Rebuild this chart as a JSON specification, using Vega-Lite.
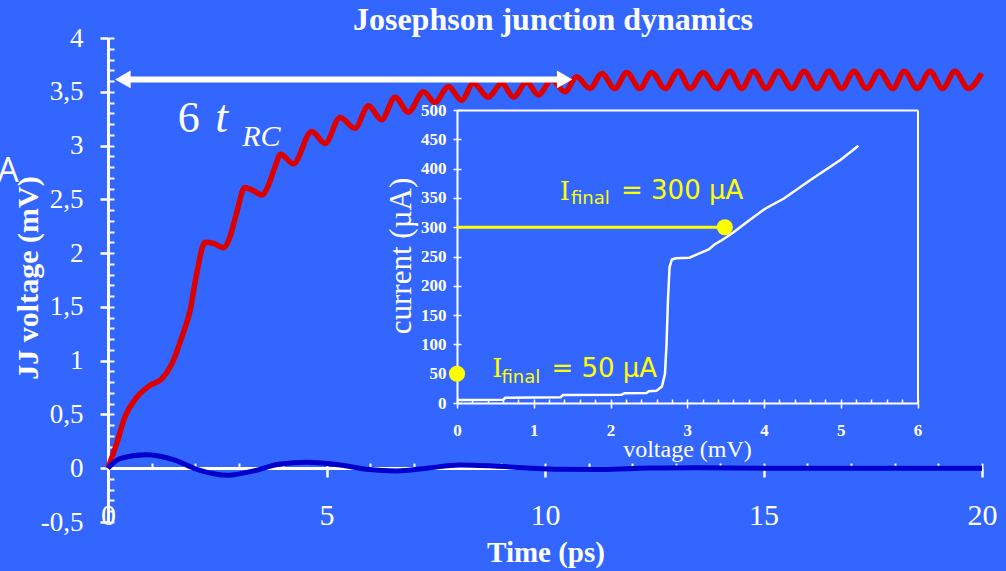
{
  "$schema": "https://vega.github.io/schema/vega-lite/v6.json",
  "width": 874,
  "height": 484,
  "autosize": {"type": "none"},
  "padding": {"left": 108, "top": 38, "right": 24, "bottom": 49},
  "background": "#3366FF",
  "config": {
    "view": {"stroke": null},
    "axis": {"domainColor": "white", "tickColor": "white", "labelColor": "white", "titleColor": "white", "labelFont": "Liberation Serif", "titleFont": "Liberation Serif", "grid": false, "labelFlush": false, "labelOverlap": false}
  },
  "title": {"text": "Josephson junction dynamics", "font": "Liberation Serif", "fontSize": 32, "fontWeight": "bold", "color": "white", "anchor": "middle", "baseline": "alphabetic", "offset": 6, "dx": 8, "dy": 44},
  "datasets": {
    "red": [
      {"t": 0, "v": 0}, {"t": 0.2, "v": 0.23}, {"t": 0.39, "v": 0.48}, {"t": 0.66, "v": 0.66}, {"t": 0.96, "v": 0.77},
      {"t": 1.23, "v": 0.83}, {"t": 1.46, "v": 0.97}, {"t": 1.69, "v": 1.22}, {"t": 1.88, "v": 1.47}, {"t": 2.03, "v": 1.81},
      {"t": 2.22, "v": 2.1}, {"t": 2.41, "v": 2.09}, {"t": 2.64, "v": 2.05}, {"t": 2.79, "v": 2.15}, {"t": 2.94, "v": 2.37},
      {"t": 3.13, "v": 2.61}, {"t": 3.33, "v": 2.58}, {"t": 3.52, "v": 2.54}, {"t": 3.67, "v": 2.63}, {"t": 3.82, "v": 2.8},
      {"t": 3.95, "v": 2.92}, {"t": 4.24, "v": 2.83}, {"t": 4.66, "v": 3.13}, {"t": 4.97, "v": 3.02}, {"t": 5.31, "v": 3.26},
      {"t": 5.65, "v": 3.16}, {"t": 5.96, "v": 3.37}, {"t": 6.26, "v": 3.24}, {"t": 6.57, "v": 3.45}, {"t": 6.87, "v": 3.31},
      {"t": 7.22, "v": 3.5}, {"t": 7.48, "v": 3.4}, {"t": 7.79, "v": 3.55}, {"t": 8.09, "v": 3.42}, {"t": 8.36, "v": 3.58},
      {"t": 8.7, "v": 3.45}, {"t": 9.01, "v": 3.58}, {"t": 9.28, "v": 3.45}, {"t": 9.58, "v": 3.59}, {"t": 9.85, "v": 3.47},
      {"t": 10.15, "v": 3.61}, {"t": 10.46, "v": 3.5}, {"t": 10.72, "v": 3.64}, {"t": 11.03, "v": 3.53}, {"t": 11.3, "v": 3.67},
      {"t": 11.6, "v": 3.53}, {"t": 11.87, "v": 3.68}, {"t": 12.17, "v": 3.53}, {"t": 12.44, "v": 3.68}, {"t": 12.75, "v": 3.53},
      {"t": 13.05, "v": 3.69}, {"t": 13.32, "v": 3.53}, {"t": 13.62, "v": 3.68}, {"t": 13.93, "v": 3.53}, {"t": 14.23, "v": 3.69},
      {"t": 14.5, "v": 3.53}, {"t": 14.77, "v": 3.69}, {"t": 15.06, "v": 3.53}, {"t": 15.34, "v": 3.69}, {"t": 15.65, "v": 3.53},
      {"t": 15.93, "v": 3.69}, {"t": 16.22, "v": 3.53}, {"t": 16.5, "v": 3.69}, {"t": 16.79, "v": 3.53}, {"t": 17.07, "v": 3.69},
      {"t": 17.36, "v": 3.53}, {"t": 17.65, "v": 3.69}, {"t": 17.96, "v": 3.53}, {"t": 18.22, "v": 3.69}, {"t": 18.52, "v": 3.53},
      {"t": 18.81, "v": 3.69}, {"t": 19.1, "v": 3.53}, {"t": 19.38, "v": 3.69}, {"t": 19.69, "v": 3.53}, {"t": 19.99, "v": 3.67}
    ],
    "blue": [
      {"t": 0, "v": 0}, {"t": 0.27, "v": 0.09}, {"t": 0.86, "v": 0.125}, {"t": 1.5, "v": 0.08}, {"t": 2.03, "v": -0.01},
      {"t": 2.76, "v": -0.065}, {"t": 3.33, "v": -0.025}, {"t": 3.94, "v": 0.04}, {"t": 4.55, "v": 0.055}, {"t": 5.31, "v": 0.03},
      {"t": 5.92, "v": -0.01}, {"t": 6.61, "v": -0.025}, {"t": 7.29, "v": 0}, {"t": 8.05, "v": 0.03}, {"t": 8.82, "v": 0.02},
      {"t": 9.5, "v": 0.005}, {"t": 10.34, "v": -0.01}, {"t": 11.3, "v": -0.012}, {"t": 12.4, "v": 0.002}, {"t": 13.5, "v": 0.004},
      {"t": 15, "v": 0}, {"t": 17, "v": 0}, {"t": 20, "v": 0}
    ],
    "iv": [
      {"volt": 0, "cur": 5}, {"volt": 0.6, "cur": 5.5}, {"volt": 0.63, "cur": 9}, {"volt": 1.35, "cur": 10}, {"volt": 1.38, "cur": 13.5},
      {"volt": 2.14, "cur": 14}, {"volt": 2.18, "cur": 16.5}, {"volt": 2.47, "cur": 17}, {"volt": 2.5, "cur": 20}, {"volt": 2.6, "cur": 21},
      {"volt": 2.67, "cur": 28}, {"volt": 2.71, "cur": 50}, {"volt": 2.73, "cur": 100}, {"volt": 2.75, "cur": 180}, {"volt": 2.77, "cur": 232},
      {"volt": 2.8, "cur": 245}, {"volt": 2.85, "cur": 247}, {"volt": 3.03, "cur": 248}, {"volt": 3.15, "cur": 255}, {"volt": 3.28, "cur": 262},
      {"volt": 3.35, "cur": 270}, {"volt": 3.44, "cur": 277}, {"volt": 3.6, "cur": 291}, {"volt": 3.8, "cur": 311}, {"volt": 4.02, "cur": 332},
      {"volt": 4.26, "cur": 349}, {"volt": 4.6, "cur": 380}, {"volt": 5.0, "cur": 415}, {"volt": 5.23, "cur": 439}
    ]
  },
  "resolve": {"scale": {"x": "independent", "y": "independent"}},
  "layer": [
    {
      "data": {"name": "blue"},
      "mark": {"type": "point", "opacity": 0},
      "encoding": {
        "x": {"field": "t", "type": "quantitative", "scale": {"domain": [0, 20], "nice": false, "zero": false},
          "axis": {"orient": "bottom", "offset": -54, "values": [0,1,2,3,4,5,6,7,8,9,10,11,12,13,14,15,16,17,18,19,20], "tickSize": -5, "tickWidth": 2, "labels": false, "domain": false, "title": null}},
        "y": {"field": "v", "type": "quantitative", "scale": {"domain": [-0.5, 4], "nice": false, "zero": false},
          "axis": {"orient": "left", "values": [-0.5,-0.4,-0.3,-0.2,-0.1,0,0.1,0.2,0.3,0.4,0.5,0.6,0.7,0.8,0.9,1,1.1,1.2,1.3,1.4,1.5,1.6,1.7,1.8,1.9,2,2.1,2.2,2.3,2.4,2.5,2.6,2.7,2.8,2.9,3,3.1,3.2,3.3,3.4,3.5,3.6,3.7,3.8,3.9,4], "tickSize": -6, "tickWidth": 2, "labels": false, "domain": false, "title": null}}
      }
    },
    {
      "encoding": {
        "x": {"field": "t", "type": "quantitative", "scale": {"domain": [0, 20], "nice": false, "zero": false},
          "axis": {"orient": "bottom", "offset": -54, "values": [0, 5, 10, 15, 20], "tickSize": 9, "tickWidth": 2.5, "domainWidth": 3, "labelFontSize": 30, "labelPadding": 23, "title": "Time (ps)", "titleFontSize": 29, "titleFontWeight": "bold", "titleX": 437.5, "titleY": 93.5, "titleBaseline": "alphabetic", "titleAlign": "center"}},
        "y": {"field": "v", "type": "quantitative", "scale": {"domain": [-0.5, 4], "nice": false, "zero": false},
          "axis": {"orient": "left", "values": [-0.5, 0, 0.5, 1, 1.5, 2, 2.5, 3, 3.5, 4], "tickSize": 8, "tickWidth": 2.5, "domainWidth": 3, "labelFontSize": 27, "labelPadding": 17, "labelExpr": "replace(toString(datum.value), '.', ',')", "title": "JJ voltage (mV)", "titleFontSize": 30, "titleFontWeight": "bold", "titleAngle": -90, "titleX": -71, "titleY": 239.5, "titleAlign": "center", "titleBaseline": "alphabetic"}}
      },
      "layer": [
        {"data": {"name": "red"}, "mark": {"type": "line", "color": "#DD0000", "strokeWidth": 5.5, "interpolate": "monotone"}},
        {"data": {"name": "blue"}, "mark": {"type": "line", "color": "#0000CC", "strokeWidth": 5, "interpolate": "monotone"}},
        {"data": {"values": [{"t": 0.4, "t2": 10.3, "v": 3.615}]}, "mark": {"type": "rule", "color": "white", "strokeWidth": 6},
          "encoding": {"x2": {"field": "t2"}}},
        {"data": {"values": [{"t": 0.34, "v": 3.615}]}, "mark": {"type": "point", "shape": "triangle-left", "filled": true, "color": "white", "opacity": 1, "size": 320}},
        {"data": {"values": [{"t": 10.45, "v": 3.615}]}, "mark": {"type": "point", "shape": "triangle-right", "filled": true, "color": "white", "opacity": 1, "size": 320}},
        {"data": {"values": [{"t": 1.85, "v": 3.13, "label": "6"}]}, "mark": {"type": "text", "font": "Liberation Serif", "fontSize": 44, "color": "white", "align": "center", "baseline": "alphabetic"}, "encoding": {"text": {"field": "label"}}},
        {"data": {"values": [{"t": 2.6, "v": 3.13, "label": "t"}]}, "mark": {"type": "text", "font": "Liberation Serif", "fontStyle": "italic", "fontSize": 46, "color": "white", "align": "center", "baseline": "alphabetic"}, "encoding": {"text": {"field": "label"}}},
        {"data": {"values": [{"t": 3.07, "v": 3.0, "label": "RC"}]}, "mark": {"type": "text", "font": "Liberation Serif", "fontStyle": "italic", "fontSize": 30, "color": "white", "align": "left", "baseline": "alphabetic"}, "encoding": {"text": {"field": "label"}}},
        {"data": {"values": [{"t": -2.29, "v": 2.66, "label": "A"}]}, "mark": {"type": "text", "font": "Open Sans", "fontSize": 34, "color": "white", "align": "center", "baseline": "alphabetic"}, "encoding": {"text": {"field": "label"}}}
      ]
    },
    {
      "data": {"name": "iv"},
      "mark": {"type": "point", "opacity": 0},
      "encoding": {
        "x": {"field": "volt", "type": "quantitative", "scale": {"domain": [0, 6], "range": [349, 809.5], "nice": false, "zero": false},
          "axis": {"orient": "top", "offset": -72, "ticks": false, "labels": false, "domainWidth": 2, "title": null}},
        "y": {"field": "cur", "type": "quantitative", "scale": {"domain": [0, 500], "range": [365, 72], "nice": false, "zero": false},
          "axis": {"orient": "right", "offset": -64.5, "ticks": false, "labels": false, "domainWidth": 2, "title": null}}
      }
    },
    {
      "data": {"name": "iv"},
      "mark": {"type": "point", "opacity": 0},
      "encoding": {
        "x": {"field": "volt", "type": "quantitative", "scale": {"domain": [0, 6], "range": [349, 809.5], "nice": false, "zero": false},
          "axis": {"orient": "bottom", "offset": -119, "values": [0,0.2,0.4,0.6,0.8,1,1.2,1.4,1.6,1.8,2,2.2,2.4,2.6,2.8,3,3.2,3.4,3.6,3.8,4,4.2,4.4,4.6,4.8,5,5.2,5.4,5.6,5.8,6], "tickSize": -4, "tickWidth": 1.5, "labels": false, "domain": false, "title": null}},
        "y": {"field": "cur", "type": "quantitative", "scale": {"domain": [0, 500], "range": [365, 72], "nice": false, "zero": false},
          "axis": {"orient": "left", "offset": -349, "values": [0,50,100,150,200,250,300,350,400,450,500], "tickSize": -4, "tickWidth": 1.5, "labels": false, "domain": false, "title": null}}
      }
    },
    {
      "encoding": {
        "x": {"field": "volt", "type": "quantitative", "scale": {"domain": [0, 6], "range": [349, 809.5], "nice": false, "zero": false},
          "axis": {"orient": "bottom", "offset": -119, "values": [0, 1, 2, 3, 4, 5, 6], "tickSize": 5, "tickWidth": 1.5, "domainWidth": 2, "labelFontSize": 17, "labelFontWeight": "bold", "labelPadding": 14, "title": "voltage (mV)", "titleFontSize": 24, "titleFontWeight": "normal", "titleX": 579, "titleY": 53, "titleAlign": "center", "titleBaseline": "alphabetic"}},
        "y": {"field": "cur", "type": "quantitative", "scale": {"domain": [0, 500], "range": [365, 72], "nice": false, "zero": false},
          "axis": {"orient": "left", "offset": -349, "values": [0,50,100,150,200,250,300,350,400,450,500], "tickSize": 4, "tickWidth": 1.5, "domainWidth": 2, "labelFontSize": 17, "labelFontWeight": "bold", "labelPadding": 7, "title": "current (µA)", "titleFontSize": 31, "titleFontWeight": "normal", "titleAngle": -90, "titleX": -47, "titleY": 217.5, "titleAlign": "center", "titleBaseline": "alphabetic"}}
      },
      "layer": [
        {"data": {"name": "iv"}, "mark": {"type": "line", "color": "white", "strokeWidth": 2.5}},
        {"data": {"values": [{"volt": 0, "cur": 300}, {"volt": 3.49, "cur": 300}]}, "mark": {"type": "line", "color": "#FFFF00", "strokeWidth": 3}},
        {"data": {"values": [{"volt": 3.49, "cur": 300}, {"volt": 0, "cur": 50}]}, "mark": {"type": "point", "filled": true, "color": "#FFFF00", "opacity": 1, "size": 260}},
        {"data": {"values": [{"volt": 1.34, "cur": 346, "label": "I"}, {"volt": 0.46, "cur": 45, "label": "I"}]}, "mark": {"type": "text", "font": "DejaVu Serif", "fontSize": 26, "color": "#FFFF00", "align": "left", "baseline": "alphabetic"}, "encoding": {"text": {"field": "label"}}},
        {"data": {"values": [{"volt": 1.485, "cur": 339.6, "label": "final"}, {"volt": 0.58, "cur": 34.6, "label": "final"}]}, "mark": {"type": "text", "font": "DejaVu Sans", "fontSize": 18, "color": "#FFFF00", "align": "left", "baseline": "alphabetic"}, "encoding": {"text": {"field": "label"}}},
        {"data": {"values": [{"volt": 2.137, "cur": 347.6, "label": "= 300 µA"}, {"volt": 1.23, "cur": 43.9, "label": "= 50 µA"}]}, "mark": {"type": "text", "font": "DejaVu Sans", "fontSize": 26, "color": "#FFFF00", "align": "left", "baseline": "alphabetic"}, "encoding": {"text": {"field": "label"}}}
      ]
    }
  ]
}
